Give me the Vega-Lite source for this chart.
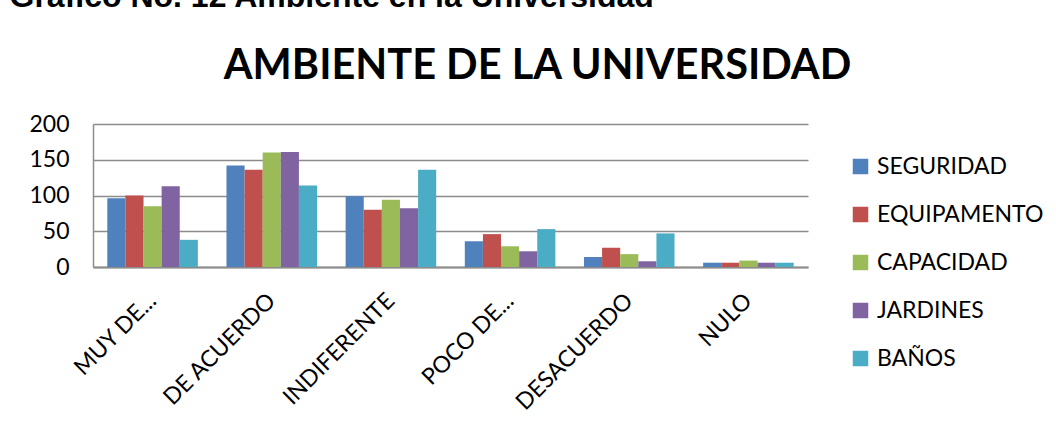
{
  "$schema": "https://vega.github.io/schema/vega-lite/v6.json",
  "autosize": {"type": "none"},
  "width": 715,
  "height": 143,
  "padding": {"left": 93, "top": 124, "right": 248, "bottom": 154},
  "background": "white",
  "data": {
    "values": [
      {"cat": "MUY DE...", "serie": "SEGURIDAD", "value": 96},
      {"cat": "MUY DE...", "serie": "EQUIPAMENTO", "value": 100},
      {"cat": "MUY DE...", "serie": "CAPACIDAD", "value": 85},
      {"cat": "MUY DE...", "serie": "JARDINES", "value": 113},
      {"cat": "MUY DE...", "serie": "BAÑOS", "value": 38},
      {"cat": "DE ACUERDO", "serie": "SEGURIDAD", "value": 142},
      {"cat": "DE ACUERDO", "serie": "EQUIPAMENTO", "value": 136},
      {"cat": "DE ACUERDO", "serie": "CAPACIDAD", "value": 160},
      {"cat": "DE ACUERDO", "serie": "JARDINES", "value": 161},
      {"cat": "DE ACUERDO", "serie": "BAÑOS", "value": 114},
      {"cat": "INDIFERENTE", "serie": "SEGURIDAD", "value": 99},
      {"cat": "INDIFERENTE", "serie": "EQUIPAMENTO", "value": 80},
      {"cat": "INDIFERENTE", "serie": "CAPACIDAD", "value": 94},
      {"cat": "INDIFERENTE", "serie": "JARDINES", "value": 82},
      {"cat": "INDIFERENTE", "serie": "BAÑOS", "value": 136},
      {"cat": "POCO DE...", "serie": "SEGURIDAD", "value": 36},
      {"cat": "POCO DE...", "serie": "EQUIPAMENTO", "value": 46},
      {"cat": "POCO DE...", "serie": "CAPACIDAD", "value": 29},
      {"cat": "POCO DE...", "serie": "JARDINES", "value": 22},
      {"cat": "POCO DE...", "serie": "BAÑOS", "value": 53},
      {"cat": "DESACUERDO", "serie": "SEGURIDAD", "value": 14},
      {"cat": "DESACUERDO", "serie": "EQUIPAMENTO", "value": 27},
      {"cat": "DESACUERDO", "serie": "CAPACIDAD", "value": 18},
      {"cat": "DESACUERDO", "serie": "JARDINES", "value": 8},
      {"cat": "DESACUERDO", "serie": "BAÑOS", "value": 47},
      {"cat": "NULO", "serie": "SEGURIDAD", "value": 6},
      {"cat": "NULO", "serie": "EQUIPAMENTO", "value": 6},
      {"cat": "NULO", "serie": "CAPACIDAD", "value": 9},
      {"cat": "NULO", "serie": "JARDINES", "value": 6},
      {"cat": "NULO", "serie": "BAÑOS", "value": 6}
    ]
  },
  "mark": {"type": "bar"},
  "encoding": {
    "x": {
      "field": "cat",
      "type": "nominal",
      "sort": ["MUY DE...", "DE ACUERDO", "INDIFERENTE", "POCO DE...", "DESACUERDO", "NULO"],
      "scale": {"paddingInner": 0.24, "paddingOuter": 0.12},
      "axis": {
        "title": "AMBIENTE DE LA UNIVERSIDAD",
        "titleFont": "Lato",
        "titleFontWeight": "bold",
        "titleFontSize": 41.5,
        "titleColor": "black",
        "titleAngle": 0,
        "titleAlign": "center",
        "titleBaseline": "alphabetic",
        "titleX": 444,
        "titleY": -189,
        "titleLimit": 0,
        "labelAngle": -45,
        "labelAlign": "right",
        "labelBaseline": "middle",
        "labelFont": "Lato",
        "labelFontSize": 23,
        "labelColor": "black",
        "labelPadding": 30,
        "ticks": false,
        "domainColor": "#8c8c8c",
        "domainWidth": 2
      }
    },
    "xOffset": {
      "field": "serie",
      "sort": ["SEGURIDAD", "EQUIPAMENTO", "CAPACIDAD", "JARDINES", "BAÑOS"],
      "scale": {"paddingInner": 0, "paddingOuter": 0}
    },
    "y": {
      "field": "value",
      "type": "quantitative",
      "scale": {"domain": [0, 200], "nice": false},
      "axis": {
        "title": "Grafico No. 12 Ambiente en la Universidad",
        "titleFont": "Liberation Sans",
        "titleFontWeight": "bold",
        "titleFontSize": 32,
        "titleColor": "black",
        "titleAngle": 0,
        "titleAlign": "left",
        "titleBaseline": "alphabetic",
        "titleX": -84,
        "titleY": -118,
        "titleLimit": 0,
        "values": [0, 50, 100, 150, 200],
        "labelFont": "Lato",
        "labelFontSize": 23,
        "labelColor": "black",
        "labelPadding": 24,
        "ticks": false,
        "domainColor": "#8c8c8c",
        "domainWidth": 1.5,
        "gridColor": "#8c8c8c",
        "gridWidth": 1.5,
        "gridOpacity": 1
      }
    },
    "color": {
      "field": "serie",
      "type": "nominal",
      "scale": {
        "domain": ["SEGURIDAD", "EQUIPAMENTO", "CAPACIDAD", "JARDINES", "BAÑOS"],
        "range": ["#4F81BD", "#C0504D", "#9BBB59", "#8064A2", "#4BACC6"]
      },
      "legend": {
        "title": null,
        "orient": "none",
        "legendX": 756,
        "legendY": 31,
        "symbolType": "square",
        "symbolSize": 240,
        "symbolStrokeWidth": 0,
        "labelFont": "Lato",
        "labelFontSize": 23,
        "labelColor": "black",
        "labelOffset": 5,
        "labelLimit": 0,
        "rowPadding": 24
      }
    }
  },
  "config": {
    "view": {"stroke": null}
  }
}
